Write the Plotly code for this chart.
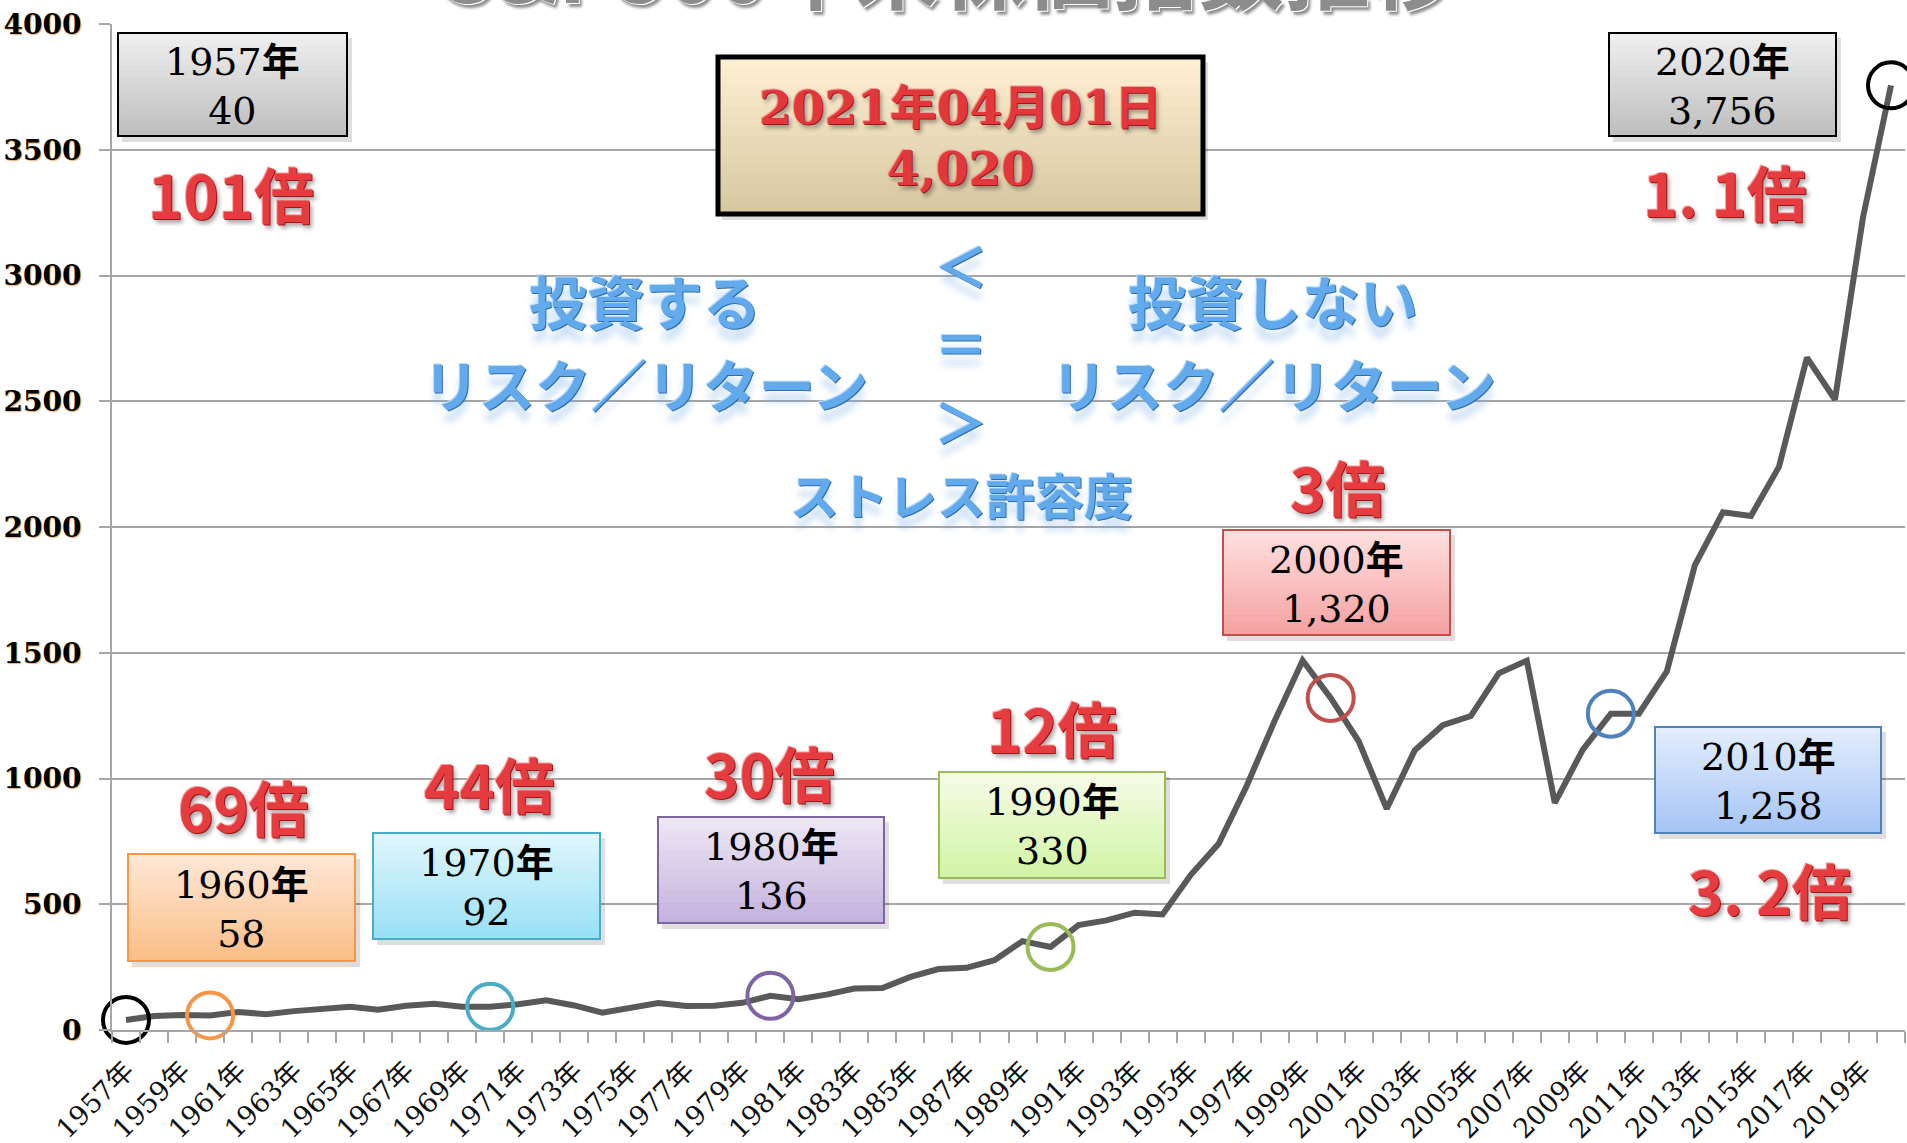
import plotly.graph_objects as go

# ---------------- data ----------------
years = list(range(1957, 2021))
sp500_close = [39.99, 55.21, 59.89, 58.11, 71.55, 63.10, 75.02, 84.75, 92.43, 80.33,
               96.47, 103.86, 92.06, 92.15, 102.09, 118.05, 97.55, 68.56, 90.19, 107.46,
               95.10, 96.11, 107.94, 135.76, 122.55, 140.64, 164.93, 167.24, 211.28, 242.17,
               247.08, 277.72, 353.40, 330.22, 417.09, 435.71, 466.45, 459.27, 615.93, 740.74,
               970.43, 1229.23, 1469.25, 1320.28, 1148.08, 879.82, 1111.92, 1211.92, 1248.29, 1418.30,
               1468.36, 903.25, 1115.10, 1257.64, 1257.60, 1426.19, 1848.36, 2058.90, 2043.94, 2238.83,
               2673.61, 2506.85, 3230.78, 3756.07]
x_tick_years = years[::2]
x_tick_labels = [f"{y}年" for y in x_tick_years]
y_tick_values = [0, 500, 1000, 1500, 2000, 2500, 3000, 3500, 4000]
y_tick_labels = [str(v) for v in y_tick_values]

marked_years = [1957, 1960, 1970, 1980, 1990, 2000, 2010, 2020]
marked_colors = ["#000000", "#F79646", "#4BACC6", "#8064A2", "#9BBB59", "#C0504D", "#4F81BD", "#000000"]
marked_values = [sp500_close[years.index(y)] for y in marked_years]

box_lines = [("1957年", "40"), ("1960年", "58"), ("1970年", "92"), ("1980年", "136"),
             ("1990年", "330"), ("2000年", "1,320"), ("2010年", "1,258"), ("2020年", "3,756")]
multiplier_texts = ["101倍", "69倍", "44倍", "30倍", "12倍", "3倍", "3. 2倍", "1. 1倍"]
current_date_text = ("2021年04月01日", "4,020")
title_text = "S&P500年末株価指数推移"

# ---------------- layout helpers ----------------
W, H = 1907, 1143
ML, MR, MT, MB = 112, 2, 24, 113
PW, PH = W - ML - MR, H - MT - MB

def px(x):
    return (x - ML) / PW

def py(y):
    return (H - MB - y) / PH

def blend(c1, c2, t):
    a = [int(c1[i:i + 2], 16) for i in (1, 3, 5)]
    b = [int(c2[i:i + 2], 16) for i in (1, 3, 5)]
    return "#" + "".join(f"{round(a[k] + (b[k] - a[k]) * t):02x}" for k in range(3))

shapes = []
annotations = []

def gradient_box(x0, y0, x1, y1, top, bottom, border, bw):
    shapes.append(dict(type="rect", xref="paper", yref="paper",
                       x0=px(x0 + 4), x1=px(x1 + 5), y0=py(y0 + 5), y1=py(y1 + 6),
                       fillcolor="rgba(0,0,0,0.13)", line=dict(width=0), layer="above"))
    n = 16
    for i in range(n):
        ya = y0 + (y1 - y0) * i / n
        yb = y0 + (y1 - y0) * (i + 1) / n
        shapes.append(dict(type="rect", xref="paper", yref="paper",
                           x0=px(x0), x1=px(x1), y0=py(yb + 0.6), y1=py(ya),
                           fillcolor=blend(top, bottom, (i + 0.5) / n),
                           line=dict(width=0), layer="above"))
    shapes.append(dict(type="rect", xref="paper", yref="paper",
                       x0=px(x0), x1=px(x1), y0=py(y1), y1=py(y0),
                       line=dict(color=border, width=bw), layer="above"))

BOX_FONT = "DejaVu Serif, Noto Sans CJK JP, serif"

box_geo = [
    (118, 33, 347, 136, "#F0F0F0", "#BDBDBD", "#000000", 2),
    (128, 854, 355, 961, "#FEE8D8", "#FBBE86", "#F79646", 2),
    (373, 833, 600, 939, "#E2F7FD", "#98DFF5", "#4BACC6", 2),
    (658, 817, 884, 923, "#EEE8F5", "#C3B1DD", "#8064A2", 2),
    (939, 772, 1165, 878, "#F6FCE8", "#D1F4A2", "#9BBB59", 2),
    (1223, 530, 1450, 635, "#FFE0E0", "#F4A0A0", "#C0504D", 2),
    (1655, 727, 1881, 833, "#E4EEFD", "#A5C4F5", "#4F81BD", 2),
    (1609, 33, 1836, 136, "#F0F0F0", "#BDBDBD", "#000000", 2),
]
for (x0, y0, x1, y1, top, bot, border, bw), (l1, l2) in zip(box_geo, box_lines):
    gradient_box(x0, y0, x1, y1, top, bot, border, bw)
    yr = l1.replace("年", "<b>年</b>")
    annotations.append(dict(xref="paper", yref="paper", x=px((x0 + x1) / 2), y=py((y0 + y1) / 2 + 1),
                            xanchor="center", yanchor="middle", showarrow=False,
                            text=f"{yr}<br>{l2}",
                            font=dict(family=BOX_FONT, size=38, color="#000000")))

gradient_box(718, 57, 1203, 214, "#FEF0D2", "#D6C7A0", "#000000", 5)
RED_SHADOW = "1px 1px 0 #9a1a1c, -1px -1px 0 #f4a0a0, 3px 4px 4px rgba(0,0,0,0.35)"
annotations.append(dict(xref="paper", yref="paper", x=px(960), y=py(138),
                        xanchor="center", yanchor="middle", showarrow=False,
                        text=f"{current_date_text[0]}<br>{current_date_text[1]}",
                        font=dict(family="DejaVu Serif, Noto Sans CJK JP, serif", size=47,
                                  color="#E2383C", weight=700, shadow=RED_SHADOW)))

mult_pos = [(231, 192), (243, 805), (489, 782), (769, 771), (1052, 726), (1337, 485), (1770, 888), (1725, 191)]
for (cx, cy), t in zip(mult_pos, multiplier_texts):
    annotations.append(dict(xref="paper", yref="paper", x=px(cx), y=py(cy),
                            xanchor="center", yanchor="middle", showarrow=False, text=t,
                            font=dict(family="Noto Sans CJK JP, sans-serif", size=60,
                                      color="#E63B3F", weight=700, shadow=RED_SHADOW)))

BLUE_SHADOW = "1px 1px 0 #2f6db3, -1px -1px 0 #b8dcff, 0 12px 7px rgba(110,165,230,0.35)"
blue_items = [
    ("投資する", 645, 300, 58), ("リスク／リターン", 645, 383, 56),
    ("投資しない", 1273, 300, 58), ("リスク／リターン", 1273, 383, 56),
    ("ストレス許容度", 961, 493, 49),
    ("＜", 961, 264, 54), ("＝", 961, 342, 54), ("＞", 961, 420, 54),
]
for t, cx, cy, fs in blue_items:
    annotations.append(dict(xref="paper", yref="paper", x=px(cx), y=py(cy),
                            xanchor="center", yanchor="middle", showarrow=False, text=t,
                            font=dict(family="Noto Sans CJK JP, sans-serif", size=fs,
                                      color="#62AAEC", weight=700, shadow=BLUE_SHADOW)))

annotations.append(dict(xref="paper", yref="paper", x=px(948), y=py(30),
                        xanchor="center", yanchor="bottom", showarrow=False, text=title_text,
                        font=dict(family="Noto Sans CJK JP, sans-serif", size=86,
                                  color="#8C8C8C", weight=700,
                                  shadow="1px 1px 0 #ffffff, 3px 4px 3px rgba(0,0,0,0.45)")))

# ---------------- figure ----------------
fig = go.Figure()
fig.add_trace(go.Scatter(x=years, y=sp500_close, mode="lines",
                         line=dict(color="#595959", width=6), hoverinfo="skip"))
fig.add_trace(go.Scatter(x=marked_years, y=marked_values, mode="markers", cliponaxis=False,
                         marker=dict(symbol="circle-open", size=46, color=marked_colors,
                                     line=dict(width=4)), hoverinfo="skip"))

fig.update_layout(
    width=W, height=H,
    margin=dict(l=ML, r=MR, t=MT, b=MB, autoexpand=False),
    paper_bgcolor="#FFFFFF", plot_bgcolor="#FFFFFF",
    showlegend=False,
    shapes=shapes, annotations=annotations,
    xaxis=dict(
        type="linear", range=[1956.5, 2020.5], tickmode="array",
        tickvals=x_tick_years, ticktext=x_tick_labels, tickangle=-45,
        ticks="", showgrid=False, zeroline=False, automargin=False,
        showline=True, linecolor="#A6A6A6", linewidth=2,
        tickfont=dict(family="DejaVu Serif, Noto Sans CJK JP, serif", size=27, color="#111111"),
        ticklabelstandoff=12,
        minor=dict(tick0=1956.5, dtick=1, ticks="outside", ticklen=11,
                   tickcolor="#A6A6A6", tickwidth=2, showgrid=False),
    ),
    yaxis=dict(
        range=[0, 4000], tickmode="array", tickvals=y_tick_values, ticktext=y_tick_labels,
        showgrid=True, gridcolor="#A6A6A6", gridwidth=2, zeroline=False, automargin=False,
        showline=True, linecolor="#A6A6A6", linewidth=2,
        ticks="outside", ticklen=11, tickcolor="#A6A6A6", tickwidth=2,
        tickfont=dict(family="DejaVu Serif, serif", size=28, color="#000000", weight=700,
                      shadow="1px 1px 1px rgba(230,140,40,0.7)"),
        ticklabelstandoff=12,
    ),
)

fig.write_html("out.html", config={"displayModeBar": False},
               post_script="document.body.style.margin='0px';document.body.style.overflow='hidden';")
